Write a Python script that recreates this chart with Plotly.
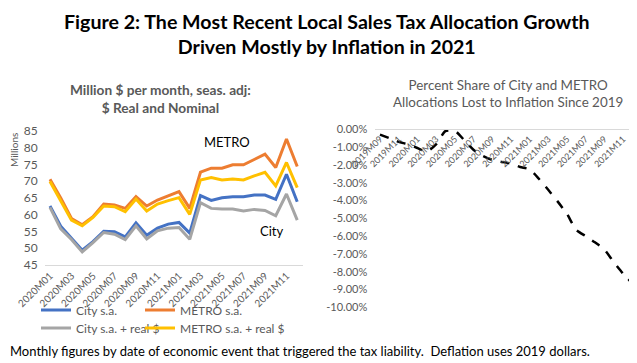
import plotly.graph_objects as go

# ---- data ----
months_left = ["2020M01","2020M02","2020M03","2020M04","2020M05","2020M06","2020M07","2020M08",
               "2020M09","2020M10","2020M11","2020M12","2021M01","2021M02","2021M03","2021M04",
               "2021M05","2021M06","2021M07","2021M08","2021M09","2021M10","2021M11","2021M12"]
city_sa = [62.6, 56.6, 53.0, 49.4, 52.0, 55.1, 54.9, 53.4, 57.6, 53.9, 56.0, 57.2,
           57.7, 54.5, 65.7, 64.3, 65.1, 65.4, 65.4, 65.9, 65.9, 64.6, 72.1, 63.9]
metro_sa = [70.6, 65.0, 58.9, 57.0, 59.4, 63.2, 62.9, 61.9, 65.4, 62.6, 64.4, 65.6,
            66.9, 61.9, 72.7, 73.9, 73.9, 74.9, 74.9, 76.5, 78.1, 74.1, 82.6, 74.4]
city_real = [62.2, 55.8, 52.6, 48.9, 51.7, 54.7, 54.2, 52.6, 56.7, 52.8, 55.2, 56.0,
             56.2, 52.7, 63.6, 61.9, 61.7, 61.7, 61.1, 61.6, 61.3, 59.7, 66.2, 58.4]
metro_real = [69.9, 64.3, 58.4, 56.7, 59.2, 62.6, 62.4, 60.9, 64.7, 61.1, 63.2, 64.2,
              65.1, 60.1, 70.4, 71.1, 70.4, 70.7, 70.4, 71.6, 72.7, 68.6, 75.6, 68.1]

months_right = ["2019M09","2019M10","2019M11","2019M12"] + months_left
share_lost = [-0.30, -0.50, -0.70, -0.85, -1.05, -1.25, -0.85, -0.10, -0.08, -0.60,
              -1.15, -1.50, -1.72, -1.83, -1.92, -2.12, -2.25, -2.78, -3.40, -4.05,
              -4.75, -5.65, -6.00, -6.35, -6.75, -7.45, -8.10, -8.65]

left_ticks = [45, 50, 55, 60, 65, 70, 75, 80, 85]
right_ticks = [0, -1, -2, -3, -4, -5, -6, -7, -8, -9, -10]

# ---- styling ----
# the page body has an 8px default margin, so the figure is drawn 8px in from the window corner
OX, OY = 8, 8
W, H = 637 - OX, 363 - OY
FONT = "Lato, 'Liberation Sans', sans-serif"
GRAY = "#595959"
AXIS = "#D9D9D9"
BLUE, ORANGE, LGRAY, YELLOW = "#4472C4", "#ED7D31", "#A5A5A5", "#FFC000"

def px(x):
    return (x - OX) / W

def py(y):
    return 1 - (y - OY) / H

series = [
    ("City s.a.", city_sa, BLUE, "legend", 36, 310),
    ("METRO s.a.", metro_sa, ORANGE, "legend2", 140, 310),
    ("City s.a. + real $", city_real, LGRAY, "legend3", 36, 328),
    ("METRO s.a. + real $", metro_real, YELLOW, "legend4", 140, 328),
]

fig = go.Figure()
legends = {}
for name, vals, col, leg, lx, ly in series:
    fig.add_trace(go.Scatter(x=months_left, y=vals, name=name, mode="lines",
                             line=dict(color=col, width=3), xaxis="x", yaxis="y", legend=leg))
    legends[leg] = dict(x=px(lx), y=py(ly), orientation="h", xanchor="left", yanchor="middle",
                        bgcolor="rgba(0,0,0,0)", itemwidth=30,
                        font=dict(family=FONT, size=12, color=GRAY))

fig.add_trace(go.Scatter(x=months_right, y=share_lost, name="Share lost", mode="lines",
                         line=dict(color="black", width=2.5, dash="dash", shape="spline", smoothing=0.6),
                         xaxis="x2", yaxis="y2", showlegend=False))

fig.update_layout(
    width=W, height=H,
    margin=dict(l=0, r=0, t=0, b=0, autoexpand=False),
    paper_bgcolor="white", plot_bgcolor="white",
    font=dict(family=FONT, color=GRAY),
    xaxis=dict(domain=[px(44.6), px(302.6)], anchor="y", type="category",
               range=[-0.5, 23.5], tickangle=-45, dtick=2, automargin=False,
               tickfont=dict(family=FONT, size=10, color=GRAY),
               showline=True, linecolor=AXIS, linewidth=1, showgrid=False, ticks=""),
    yaxis=dict(domain=[py(265), py(131)], anchor="x", range=[45, 85], automargin=False,
               tickvals=left_ticks, showgrid=False, zeroline=False, showline=False,
               ticklabelstandoff=6,
               tickfont=dict(family=FONT, size=12, color=GRAY), ticks=""),
    xaxis2=dict(domain=[px(375.3), 1.0], anchor="free", position=py(129.3), side="bottom",
                type="category", range=[-0.5, 27.5], automargin=False,
                tickangle=-45, dtick=2,
                tickfont=dict(family=FONT, size=9, color=GRAY),
                showline=True, linecolor=AXIS, linewidth=1, showgrid=False, ticks=""),
    yaxis2=dict(domain=[py(307.3), py(129.3)], anchor="x2", range=[-10, 0], automargin=False,
                tickvals=right_ticks, ticktext=[f"{v:.2f}%" for v in right_ticks],
                showgrid=False, zeroline=False, showline=False, ticklabelstandoff=7,
                tickfont=dict(family=FONT, size=11, color=GRAY), ticks=""),
    **legends,
)

ann = [
    dict(text="<b>Figure 2: The Most Recent Local Sales Tax Allocation Growth<br>Driven Mostly by Inflation in 2021</b>",
         x=px(327), y=py(34), font=dict(family=FONT, size=19.6, color="black")),
    dict(text="<b>Million $ per month, seas. adj:<br>$ Real and Nominal</b>",
         x=px(160), y=py(98), font=dict(family=FONT, size=13.7, color=GRAY)),
    dict(text="Percent Share of City and METRO<br>Allocations Lost to Inflation Since 2019",
         x=px(508), y=py(93.5), font=dict(family=FONT, size=13.4, color=GRAY)),
    dict(text="METRO", x=px(227), y=py(142), font=dict(family=FONT, size=13, color="black")),
    dict(text="City", x=px(271), y=py(231), font=dict(family=FONT, size=13, color="black")),
    dict(text="Millions", x=px(14), y=py(150), textangle=-90,
         font=dict(family=FONT, size=10, color=GRAY)),
    dict(text="Monthly figures by date of economic event that triggered the tax liability.  Deflation uses 2019 dollars.",
         x=px(8), y=py(351), xanchor="left", font=dict(family=FONT, size=13, color="black")),
]
for a in ann:
    a.setdefault("xanchor", "center")
    a.update(xref="paper", yref="paper", yanchor="middle", showarrow=False)
fig.update_layout(annotations=ann)

fig.write_html("out.html")
